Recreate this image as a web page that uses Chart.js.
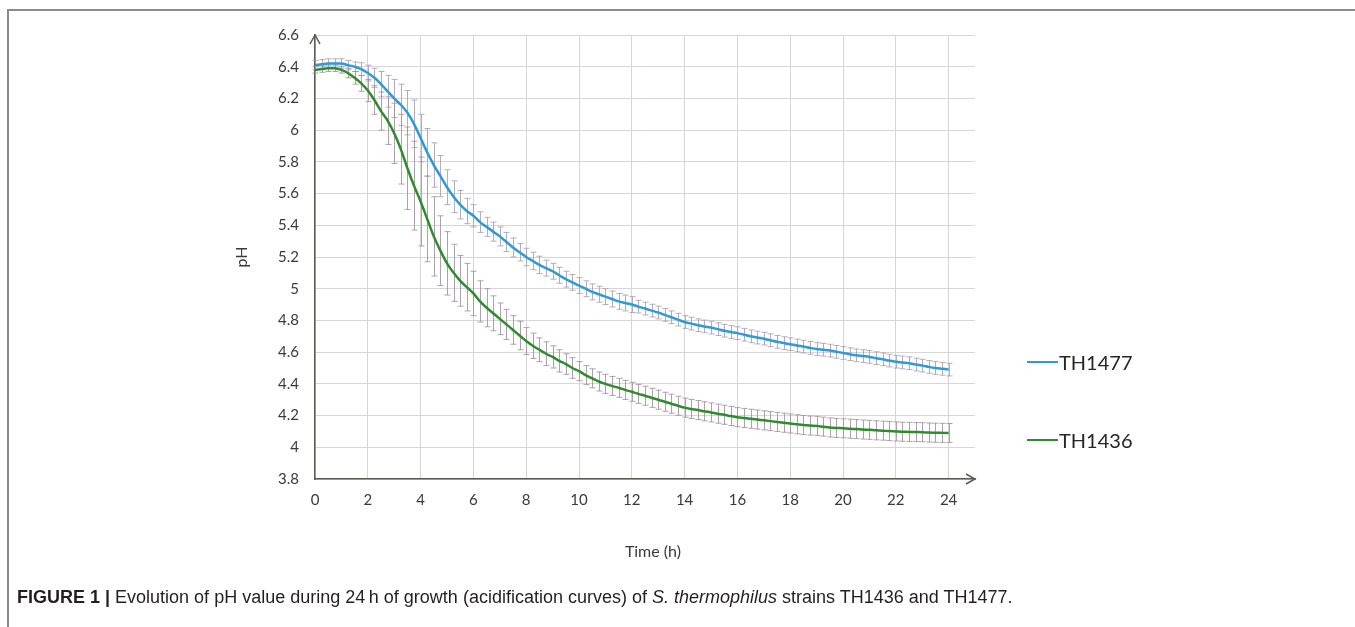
<!DOCTYPE html>
<html>
<head>
<meta charset="utf-8">
<script src="https://cdn.jsdelivr.net/npm/chart.js@4.4.1/dist/chart.umd.min.js"></script>
<style>
  html, body { margin: 0; padding: 0; background: #fff; width: 1355px; height: 627px; overflow: hidden; }
  #frame { position: absolute; left: 7px; top: 9px; width: 1400px; height: 700px; border-top: 2px solid #8a8a8a; border-left: 2px solid #8a8a8a; }
  #chart { position: absolute; left: 0; top: 0; }
  .legend { position: absolute; left: 1027px; height: 24px; display: flex; align-items: center; font: 20px Lato, sans-serif; color: #262626; }
  .legend i { display: inline-block; width: 31px; height: 2.5px; margin-right: 1px; }
  #caption { position: absolute; left: 17px; top: 587px; font: 18px "Liberation Sans", Arial, sans-serif; color: #231f20; white-space: nowrap; }
  #caption b { font-weight: bold; }
</style>
</head>
<body>
<div id="frame"></div>
<canvas id="chart" width="1355" height="627"></canvas>
<div class="legend" style="top:350px"><i style="background:#2f9ad8"></i>TH1477</div>
<div class="legend" style="top:428px"><i style="background:#2e8b2e"></i>TH1436</div>
<div id="caption"><b>FIGURE 1 |</b> Evolution of pH value during 24&#8201;h of growth (acidification curves) of <i>S. thermophilus</i> strains TH1436 and TH1477.</div>
<script>
// time in hours, one reading every 15 min
const hours = [
  0, 0.25, 0.5, 0.75, 1, 1.25, 1.5, 1.75, 2, 2.25, 2.5, 2.75, 3, 3.25, 3.5, 3.75,
  4, 4.25, 4.5, 4.75, 5, 5.25, 5.5, 5.75, 6, 6.25, 6.5, 6.75, 7, 7.25, 7.5, 7.75,
  8, 8.25, 8.5, 8.75, 9, 9.25, 9.5, 9.75, 10, 10.25, 10.5, 10.75, 11, 11.25, 11.5, 11.75,
  12, 12.25, 12.5, 12.75, 13, 13.25, 13.5, 13.75, 14, 14.25, 14.5, 14.75, 15, 15.25, 15.5, 15.75,
  16, 16.25, 16.5, 16.75, 17, 17.25, 17.5, 17.75, 18, 18.25, 18.5, 18.75, 19, 19.25, 19.5, 19.75,
  20, 20.25, 20.5, 20.75, 21, 21.25, 21.5, 21.75, 22, 22.25, 22.5, 22.75, 23, 23.25, 23.5, 23.75, 24
];

const th1477 = [
  6.41, 6.415, 6.42, 6.42, 6.42, 6.41, 6.40, 6.385, 6.36, 6.33, 6.29, 6.245, 6.20, 6.16, 6.11, 6.04,
  5.95, 5.86, 5.78, 5.71, 5.64, 5.58, 5.53, 5.49, 5.46, 5.42, 5.39, 5.36, 5.33, 5.295, 5.26, 5.23,
  5.20, 5.175, 5.15, 5.13, 5.11, 5.085, 5.06, 5.04, 5.02, 5.00, 4.98, 4.965, 4.95, 4.935, 4.92, 4.91,
  4.90, 4.887, 4.875, 4.862, 4.85, 4.835, 4.82, 4.805, 4.79, 4.78, 4.77, 4.762, 4.755, 4.745, 4.735, 4.727,
  4.72, 4.71, 4.70, 4.692, 4.685, 4.675, 4.665, 4.657, 4.65, 4.642, 4.635, 4.627, 4.62, 4.615, 4.61, 4.602,
  4.595, 4.587, 4.58, 4.575, 4.57, 4.562, 4.555, 4.547, 4.54, 4.535, 4.53, 4.522, 4.515, 4.507, 4.50, 4.495, 4.49
];
const th1477Err = [
  0.03, 0.03, 0.03, 0.03, 0.03, 0.03, 0.03, 0.04, 0.05, 0.06, 0.08, 0.10, 0.12, 0.13, 0.14, 0.15,
  0.15, 0.15, 0.14, 0.13, 0.11, 0.10, 0.09, 0.08, 0.07, 0.065, 0.06, 0.06, 0.06, 0.06, 0.06, 0.055,
  0.055, 0.055, 0.055, 0.05, 0.05, 0.05, 0.05, 0.05, 0.05, 0.05, 0.05, 0.05, 0.05, 0.05, 0.05, 0.05,
  0.05, 0.04, 0.04, 0.04, 0.04, 0.04, 0.04, 0.04, 0.04, 0.04, 0.04, 0.04, 0.04, 0.04, 0.04, 0.04,
  0.04, 0.04, 0.04, 0.04, 0.04, 0.04, 0.04, 0.04, 0.04, 0.04, 0.04, 0.04, 0.04, 0.04, 0.04, 0.04,
  0.04, 0.04, 0.04, 0.04, 0.04, 0.04, 0.04, 0.04, 0.04, 0.04, 0.04, 0.04, 0.04, 0.04, 0.04, 0.04, 0.04
];

const th1436 = [
  6.38, 6.385, 6.39, 6.39, 6.38, 6.36, 6.33, 6.295, 6.25, 6.19, 6.12, 6.06, 5.98, 5.88, 5.76, 5.65,
  5.55, 5.44, 5.33, 5.24, 5.16, 5.10, 5.05, 5.01, 4.97, 4.92, 4.88, 4.845, 4.81, 4.775, 4.74, 4.705,
  4.67, 4.64, 4.615, 4.59, 4.57, 4.545, 4.525, 4.50, 4.48, 4.455, 4.435, 4.415, 4.40, 4.387, 4.375, 4.362,
  4.35, 4.337, 4.325, 4.312, 4.30, 4.287, 4.275, 4.262, 4.25, 4.242, 4.235, 4.227, 4.22, 4.212, 4.205, 4.197,
  4.19, 4.185, 4.18, 4.175, 4.17, 4.165, 4.16, 4.155, 4.15, 4.145, 4.14, 4.137, 4.135, 4.13, 4.125, 4.122,
  4.12, 4.117, 4.115, 4.112, 4.11, 4.107, 4.105, 4.102, 4.10, 4.098, 4.097, 4.096, 4.095, 4.093, 4.092, 4.091, 4.09
];
const th1436Err = [
  0.02, 0.02, 0.02, 0.02, 0.02, 0.03, 0.04, 0.05, 0.07, 0.09, 0.12, 0.15, 0.19, 0.22, 0.26, 0.28,
  0.28, 0.27, 0.25, 0.22, 0.20, 0.18, 0.16, 0.15, 0.14, 0.13, 0.12, 0.11, 0.10, 0.095, 0.09, 0.09,
  0.085, 0.08, 0.075, 0.075, 0.07, 0.07, 0.065, 0.065, 0.06, 0.06, 0.06, 0.06, 0.06, 0.06, 0.06, 0.06,
  0.06, 0.06, 0.06, 0.06, 0.06, 0.06, 0.06, 0.06, 0.06, 0.06, 0.06, 0.06, 0.06, 0.06, 0.06, 0.06,
  0.06, 0.06, 0.06, 0.06, 0.06, 0.06, 0.06, 0.06, 0.06, 0.06, 0.06, 0.06, 0.06, 0.06, 0.06, 0.06,
  0.06, 0.06, 0.06, 0.06, 0.06, 0.06, 0.06, 0.06, 0.06, 0.06, 0.06, 0.06, 0.06, 0.06, 0.06, 0.06, 0.06
];

const tickColor = "#3a3a3a";
const axisColor = "#5a5a52";
const gridColor = "#d6d6d6";

const errorBars = {
  id: "errorBars",
  beforeDatasetsDraw(chart) {
    const { ctx, scales: { x, y } } = chart;
    ctx.save();
    ctx.lineWidth = 1;
    chart.data.datasets.forEach((ds) => {
      ctx.strokeStyle = ds.errColor;
      ds.data.forEach((p, i) => {
        const e = ds.errors[i];
        const px = Math.round(x.getPixelForValue(p.x)) + 0.5;
        const top = y.getPixelForValue(p.y + e);
        const bottom = y.getPixelForValue(p.y - e);
        ctx.beginPath();
        ctx.moveTo(px, top);
        ctx.lineTo(px, bottom);
        ctx.moveTo(px - 3, top);
        ctx.lineTo(px + 3, top);
        ctx.moveTo(px - 3, bottom);
        ctx.lineTo(px + 3, bottom);
        ctx.stroke();
      });
    });
    ctx.restore();
  }
};

const axisArrows = {
  id: "axisArrows",
  afterDraw(chart) {
    const { ctx, chartArea: { left, right, top, bottom } } = chart;
    ctx.save();
    ctx.strokeStyle = axisColor;
    ctx.lineWidth = 1.5;
    ctx.beginPath();
    ctx.moveTo(left - 5, top + 9);
    ctx.lineTo(left, top);
    ctx.lineTo(left + 5, top + 9);
    ctx.moveTo(right - 9, bottom - 5);
    ctx.lineTo(right, bottom);
    ctx.lineTo(right - 9, bottom + 5);
    ctx.stroke();
    ctx.restore();
  }
};

const tickFont = { family: "Lato", size: 15 };

new Chart(document.getElementById("chart"), {
  type: "line",
  data: {
    datasets: [
      {
        label: "TH1477",
        data: hours.map((h, i) => ({ x: h, y: th1477[i] })),
        errors: th1477Err,
        errColor: "rgba(165, 160, 178, 0.85)",
        borderColor: "#2f9ad8",
        borderWidth: 2.5,
        pointRadius: 0,
        cubicInterpolationMode: "monotone"
      },
      {
        label: "TH1436",
        data: hours.map((h, i) => ({ x: h, y: th1436[i] })),
        errors: th1436Err,
        errColor: "rgba(160, 145, 158, 0.85)",
        borderColor: "#2e8b2e",
        borderWidth: 2.5,
        pointRadius: 0,
        cubicInterpolationMode: "monotone"
      }
    ]
  },
  options: {
    responsive: false,
    animation: false,
    layout: { padding: { left: 230, right: 380, top: 35, bottom: 58 } },
    plugins: { legend: { display: false }, tooltip: { enabled: false } },
    scales: {
      x: {
        type: "linear",
        min: 0,
        max: 25,
        afterBuildTicks: (scale) => { scale.ticks = scale.ticks.filter((t) => t.value <= 24); },
        afterFit: (scale) => { scale.height = 90; },
        ticks: { stepSize: 2, padding: 12, color: tickColor, font: tickFont, maxRotation: 0 },
        grid: { color: gridColor, lineWidth: 1, drawTicks: false },
        border: { color: axisColor, width: 1.5 },
        // leading spaces nudge the title right, as in the original
        title: { display: true, text: "\u00a0\u00a0\u00a0\u00a0Time (h)", color: tickColor, font: { family: "Lato", size: 16 }, padding: { top: 0, bottom: 8 } }
      },
      y: {
        min: 3.8,
        max: 6.6,
        afterFit: (scale) => { scale.width = 85; },
        ticks: {
          stepSize: 0.2,
          padding: 16,
          color: tickColor,
          font: tickFont,
          callback: (v) => String(Number(v.toFixed(1)))
        },
        grid: { color: gridColor, lineWidth: 1, drawTicks: false },
        border: { color: axisColor, width: 1.5 },
        title: { display: true, text: "pH", color: tickColor, font: { family: "Lato", size: 16 }, padding: { top: 2, bottom: 0 } }
      }
    }
  },
  plugins: [errorBars, axisArrows]
});
</script>
</body>
</html>
